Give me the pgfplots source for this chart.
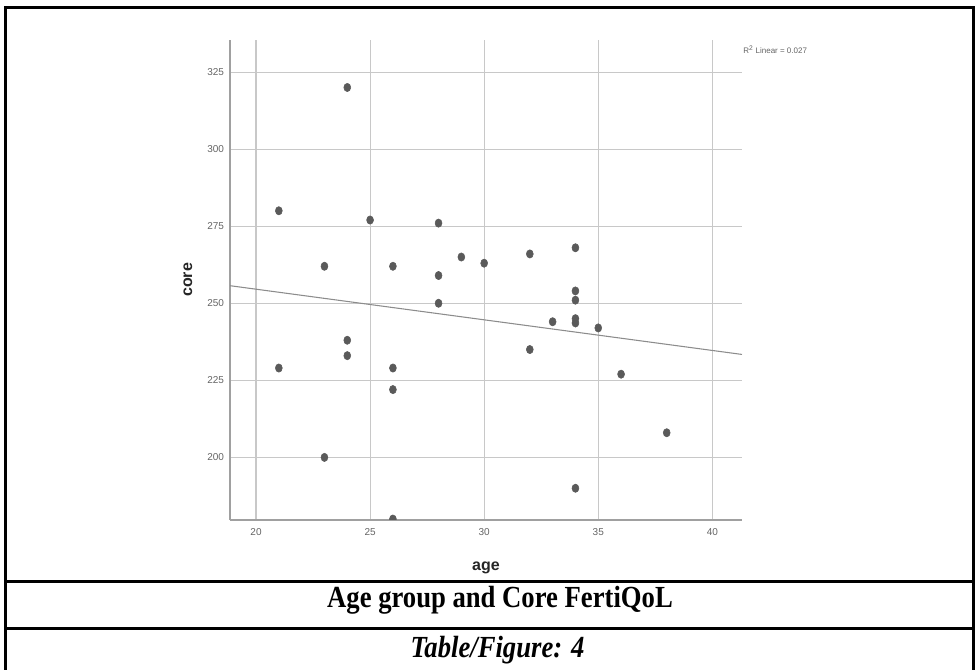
\documentclass[border=0pt]{standalone}
\usepackage{graphicx}
\usepackage{fontspec}
\setmainfont{Liberation Serif}
\setsansfont{Liberation Sans}
\usepackage{pgfplots}
\pgfplotsset{compat=1.18}

\definecolor{gridc}{RGB}{200,200,200}
\definecolor{axisc}{RGB}{160,160,160}
\definecolor{dotc}{RGB}{90,90,90}
\definecolor{fitc}{RGB}{140,140,140}
\definecolor{tickc}{RGB}{100,100,100}

\begin{document}
\begin{tikzpicture}[x=0.75pt,y=0.75pt]
\useasboundingbox (0,0) rectangle (978,670);

% frame of the table cell
\draw[line width=2.25pt] (5,0) -- (5,662) -- (973,662) -- (973,0);
\draw[line width=2.25pt] (5,88) -- (973,88);
\draw[line width=2.25pt] (5,41) -- (973,41);

\begin{axis}[
    at={(172.5pt,112.5pt)}, anchor=south west,
    scale only axis, width=384pt, height=360pt,
    xmin=18.86, xmax=41.3, ymin=179.7, ymax=335.4,
    xtick={20,25,30,35,40}, ytick={200,225,250,275,300,325},
    axis x line*=bottom, axis y line*=left,
    axis line style={draw=axisc, line width=1.1pt, -},
    major tick length=0pt,
    grid=major, major grid style={draw=gridc, line width=0.8pt},
    tick label style={font=\fontsize{7.5}{8}\selectfont\sffamily, text=tickc},
    /pgf/number format/assume math mode=true,
    xticklabel style={yshift=-3pt},
    yticklabel style={xshift=-1pt},
    xlabel={age}, ylabel={core},
    every axis x label/.style={at={(axis description cs:0.5,-0.1)}, anchor=center,
        font=\fontsize{12}{13}\selectfont\sffamily\bfseries, text=black!85},
    every axis y label/.style={at={(axis description cs:-0.082,0.5)}, rotate=90, anchor=center,
        font=\fontsize{12}{13}\selectfont\sffamily\bfseries, text=black!85},
    clip marker paths=true,
]
% linear fit, R^2 = 0.027
\addplot[draw=fitc, line width=0.8pt, no marks] coordinates {(18.86,255.7) (41.3,233.4)};
\addplot[only marks, mark=*, mark size=2.6pt, draw=dotc, fill=dotc,
    every mark/.append style={yscale=1.2}] coordinates {
    (21,280) (21,229)
    (23,262) (23,200)
    (24,320) (24,238) (24,233)
    (25,277)
    (26,262) (26,229) (26,222) (26,180)
    (28,276) (28,259) (28,250)
    (29,265)
    (30,263)
    (32,266) (32,235)
    (33,244)
    (34,268) (34,254) (34,251) (34,245) (34,243.6) (34,190)
    (35,242)
    (36,227)
    (38,208)
};
\end{axis}

\node[anchor=west, text=tickc, font=\fontsize{6}{7}\selectfont\sffamily, inner sep=0pt] at (743,620) {R\textsuperscript{2} Linear = 0.027};

\node[anchor=base, inner sep=0pt] at (500,62.3) {\fontsize{20}{24}\selectfont\bfseries\scalebox{1}[1.15]{Age group and Core FertiQoL}};
\node[anchor=base, inner sep=0pt] at (497.5,12.3) {\fontsize{20}{24}\selectfont\bfseries\itshape\scalebox{1}[1.15]{Table/Figure: 4}};
\end{tikzpicture}
\end{document}
